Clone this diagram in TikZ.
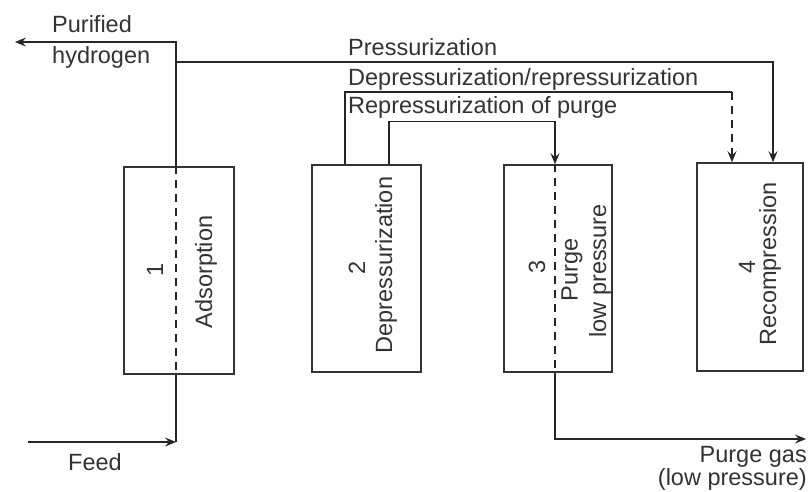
\documentclass[tikz,border=0pt]{standalone}
\usepackage{fontspec}
\setmainfont{Liberation Sans}
\usetikzlibrary{arrows.meta}
\tikzset{
  ln/.style={line width=1.5pt, draw=black!85},
  arr/.style={ln, -{Stealth[length=11pt,width=9pt,inset=4pt]}},
  dsh/.style={ln, dash pattern=on 8pt off 6pt},
  bed/.style={draw=black!80, line width=1.5pt, minimum width=#1, minimum height=207pt, inner sep=0pt},
  lbl/.style={inner sep=0pt, text=black!80, font=\fontsize{23.5}{28}\selectfont},
  vlbl/.style={lbl, rotate=90}
}
\begin{document}
\begin{tikzpicture}[x=1pt,y=-1pt]
\useasboundingbox (0,0) rectangle (812,491);
\clip (0,0) rectangle (812,491);
\fill[white] (0,0) rectangle (812,491);

% beds
\node[bed=110pt] (b1) at (179,270.5) {};
\node[bed=109pt] (b2) at (366.5,268.5) {};
\node[bed=108pt] (b3) at (558,268.5) {};
\node[bed=106pt, minimum height=208pt] (b4) at (750,267) {};

% labels in beds
\node[vlbl] (n1) at (155,270) {1};
\node[vlbl] (t1) at (206,272) {Adsorption};
\node[vlbl] (n2) at (357,268) {2};
\node[vlbl] (t2) at (386,265) {Depressurization};
\node[vlbl] (n3) at (537,267) {3};
\node[vlbl] (t3a) at (572,270) {Purge};
\node[vlbl] (t3b) at (600,271) {low pressure};
\node[vlbl] (n4) at (747,267) {4};
\node[vlbl] (t4) at (770,264) {Recompression};

% free ends and corners
\coordinate (ph) at (15,42);
\coordinate (j1) at (176,62);
\coordinate (dc) at (732,92);
\coordinate (feedin) at (28,442);
\coordinate (fc) at (176,442);
\coordinate (pg) at (806,439);

% bed 1 flow
\draw[dsh] ([xshift=-3pt]b1.north) -- ([xshift=-3pt]b1.south);
\draw[arr] ([xshift=-3pt]b1.north) |- (ph);
\draw[arr] (feedin) -- (fc);
\draw[ln] ([xshift=-3pt]b1.south) -- (fc);

% pressurization
\draw[arr] (j1) -| ([xshift=23pt]b4.north);

% depressurization / repressurization
\draw[ln] ([xshift=-21.5pt]b2.north) |- (dc);
\draw[arr, dash pattern=on 8pt off 6pt] (dc) -- ([xshift=-18pt]b4.north);

% repressurization of purge
\draw[arr] ([xshift=22.5pt]b2.north) -- ++(0,-43) -| ([xshift=-3pt]b3.north);

% bed 3 flow
\draw[dsh] ([xshift=-3pt]b3.north) -- ([xshift=-3pt]b3.south);
\draw[arr] ([xshift=-3pt]b3.south) |- (pg);

% texts
\node[lbl, anchor=base west] (pur) at (52,32) {Purified};
\node[lbl, anchor=base west] (hyd) at (52,63) {hydrogen};
\node[lbl, anchor=base west] (pres) at (348,55) {Pressurization};
\node[lbl, anchor=base west] (dep) at (348,85) {Depressurization/repressurization};
\node[lbl, anchor=base west] (rep) at (348,113) {Repressurization of purge};
\node[lbl, anchor=base west] (feed) at (68,470) {Feed};
\node[lbl, anchor=base east] (pgas) at (807,462) {Purge gas};
\node[lbl, anchor=base east] (lowp) at (807,485) {(low pressure)};
\end{tikzpicture}
\end{document}
